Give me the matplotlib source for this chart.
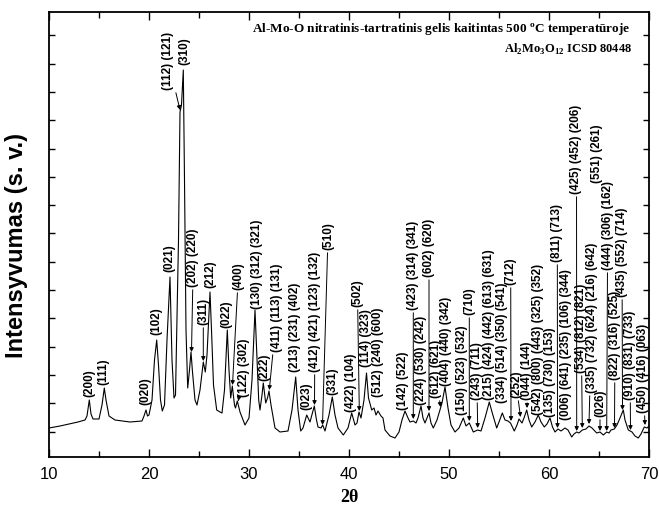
import numpy as np
import matplotlib
matplotlib.use("Agg")
import matplotlib.pyplot as plt

# XRD pattern of Al2Mo3O12 (traced vertices: 2theta, intensity a.u.)
two_theta = [10.0, 11.1, 12.9, 13.6, 13.8, 14.03, 14.2, 14.4, 15.0, 15.3, 15.53, 15.7, 16.0, 16.6,
             18.1, 19.3, 19.5, 19.7, 19.85, 20.0, 20.3, 20.55, 20.77, 20.95, 21.15, 21.33, 21.55,
             21.8, 22.1, 22.3, 22.5, 22.65, 22.95, 23.1, 23.25, 23.43, 23.55, 23.7, 23.87, 24.05,
             24.2, 24.35, 24.6, 24.8, 25.1, 25.43, 25.63, 25.8, 25.97, 26.1, 26.25, 26.45, 26.77,
             27.1, 27.3, 27.55, 27.83, 28.0, 28.17, 28.33, 28.55, 28.65, 28.83, 29.1, 29.6, 30.0,
             30.3, 30.6, 30.8, 30.97, 31.1, 31.3, 31.43, 31.67, 31.85, 32.0, 32.2, 32.6, 33.1,
             33.9, 34.3, 34.67, 34.9, 35.17, 35.4, 35.77, 36.1, 36.53, 36.75, 36.9, 37.2, 37.37,
             37.6, 38.0, 38.33, 38.6, 38.9, 39.43, 39.9, 40.27, 40.6, 40.8, 41.0, 41.2, 41.5,
             41.75, 41.95, 42.27, 42.5, 42.7, 42.9, 43.2, 43.4, 43.6, 44.1, 44.6, 45.0, 45.3,
             45.6, 45.9, 46.1, 46.43, 46.7, 46.9, 47.2, 47.4, 47.6, 47.8, 48.0, 48.2, 48.43,
             48.8, 49.1, 49.3, 49.6, 49.9, 50.2, 50.6, 51.0, 51.43, 51.7, 52.03, 52.43, 52.87,
             53.2, 53.6, 54.03, 54.3, 54.77, 55.0, 55.33, 55.6, 55.9, 56.15, 56.53, 56.8, 57.0,
             57.3, 57.5, 57.77, 58.0, 58.27, 58.6, 58.93, 59.2, 59.53, 59.8, 60.1, 60.35, 60.6,
             60.9, 61.2, 61.6, 61.9, 62.27, 62.5, 62.77, 63.0, 63.33, 63.7, 64.0, 64.3, 64.77,
             65.1, 65.43, 65.77, 66.0, 66.2, 66.53, 66.8, 67.1, 67.43, 67.6, 67.93, 68.3, 68.6,
             68.93, 69.2, 69.53, 69.8, 70.0]
intensity = [29, 31, 35, 37, 41, 57, 43, 38, 38, 52, 69, 57, 41, 37,
             35, 36, 41, 47, 41, 42, 57, 97, 117, 92, 57, 46, 52,
             117, 180, 97, 59, 62, 217, 345, 352, 387, 277, 127, 69, 87,
             105, 85, 57, 52, 67, 95, 85, 102, 137, 165, 127, 72, 47,
             45, 44, 67, 127, 87, 59, 71, 52, 49, 56, 45, 32, 39,
             77, 147, 97, 57, 47, 62, 74, 54, 59, 66, 52, 29, 25,
             26, 47, 80, 47, 26, 29, 42, 35, 51, 37, 30, 29, 32,
             26, 42, 60, 42, 29, 22, 29, 44, 32, 34, 45, 39, 57,
             84, 59, 47, 49, 42, 46, 41, 39, 27, 21, 19, 25, 37,
             46, 39, 35, 36, 34, 39, 51, 39, 34, 39, 44, 34, 29,
             37, 47, 54, 70, 49, 32, 25, 29, 39, 31, 34, 25, 27,
             26, 39, 55, 45, 29, 35, 44, 37, 36, 34, 26, 32, 38,
             34, 39, 47, 37, 30, 35, 42, 35, 30, 33, 39, 30, 25,
             28, 26, 29, 27, 20, 23, 25, 24, 27, 28, 31, 29, 24,
             25, 22, 25, 24, 27, 28, 32, 39, 47, 37, 27, 25, 21,
             19, 23, 30, 29, 31]

# Miller index labels: text, label x, label bottom, arrow tip (or None)
hkl_labels = [
    ("(200)", 14.03, 60, None),
    ("(111)", 15.45, 72, None),
    ("(020)", 19.67, 52, None),
    ("(102)", 20.70, 122, None),
    ("(021)", 22.00, 185, None),
    ("(112) (121)", 21.93, 367, (23.10, 347)),
    ("(310)", 23.50, 392, None),
    ("(202) (220)", 24.43, 170, (24.25, 105)),
    ("(311)", 25.43, 132, (25.43, 96)),
    ("(212)", 26.17, 169, None),
    ("(022)", 27.77, 129, None),
    ("(400)", 28.93, 167, (28.35, 72)),
    ("(122) (302)", 29.53, 60, (28.93, 56)),
    ("(130) (312) (321)", 30.77, 148, None),
    ("(222)", 31.50, 76, None),
    ("(411) (113) (131)", 32.83, 105, (32.03, 67)),
    ("(213) (231) (402)", 34.60, 85, None),
    ("(023)", 35.70, 47, None),
    ("(412) (421) (123) (132)", 36.60, 85, (36.55, 52)),
    ("(510)", 37.90, 207, (37.35, 32)),
    ("(331)", 38.37, 62, None),
    ("(422) (104)", 40.17, 45, None),
    ("(502)", 40.85, 150, (41.03, 46)),
    ("(114) (323)", 41.70, 90, None),
    ("(512) (240) (600)", 42.93, 60, None),
    ("(142) (522)", 45.43, 47, None),
    ("(423) (314) (341)", 46.43, 147, (46.43, 38)),
    ("(224) (530) (242)", 47.20, 52, None),
    ("(602) (620)", 48.00, 180, (48.00, 46)),
    ("(612) (621)", 48.65, 59, (49.15, 50)),
    ("(404) (440) (342)", 49.75, 71, None),
    ("(150) (523) (532)", 51.27, 42, None),
    ("(710)", 52.03, 142, (52.03, 36)),
    ("(243) (711)", 52.77, 57, (52.87, 29)),
    ("(215) (424) (442) (613) (631)", 54.03, 57, None),
    ("(334) (514) (350) (541)", 55.27, 54, None),
    ("(712)", 56.17, 172, (56.20, 36)),
    ("(252)", 56.72, 59, (57.15, 40)),
    ("(044) (144)", 57.84, 57, (57.80, 49)),
    ("(542) (800) (443) (325) (352)", 58.93, 42, None),
    ("(135) (730) (153)", 60.10, 40, None),
    ("(811) (713)", 60.83, 195, (60.85, 29)),
    ("(006) (641) (235) (106) (344)", 61.70, 37, None),
    ("(425) (452) (206)", 62.75, 263, (62.77, 26)),
    ("(534) (812) (821)", 63.22, 84, (63.33, 29)),
    ("(335) (732) (624) (216) (642)", 64.27, 64, (64.00, 33)),
    ("(551) (261)", 64.77, 274, None),
    ("(026)", 65.10, 40, (65.10, 26)),
    ("(444) (306) (162)", 65.87, 187, (65.77, 26)),
    ("(822) (316) (525)", 66.60, 77, (66.55, 29)),
    ("(435) (552) (714)", 67.30, 160, (67.35, 47)),
    ("(910) (831) (733)", 68.10, 57, (68.15, 27)),
    ("(450) (416) (063)", 69.37, 44, (69.60, 32)),
]

fig = plt.figure(figsize=(6.59, 5.16), dpi=100)
ax = fig.add_axes([49 / 659, 1 - 457 / 516, 600 / 659, 445 / 516])

ax.plot(two_theta, intensity, color="black", lw=0.8)

lab_font = dict(family="Liberation Sans", weight="bold", size=8.5)
for text, lx, ly, tip in hkl_labels:
    if tip is None:
        ax.text(lx, ly, text, rotation=90, ha="center", va="bottom", **lab_font)
    else:
        ax.annotate(text, xy=tip, xytext=(lx, ly), rotation=90, ha="center", va="bottom",
                    arrowprops=dict(arrowstyle="-|>", color="black", lw=0.7,
                                    mutation_scale=6, shrinkA=0, shrinkB=0),
                    **lab_font)

ax.set_xlim(10, 70)
ax.set_ylim(0, 445)
ax.set_xticks(np.arange(10, 71, 10))
ax.set_xticks(np.arange(15, 70, 10), minor=True)
ax.set_yticks(np.arange(25.4, 445, 28.3))
ax.set_yticklabels([])
ax.tick_params(axis="both", which="both", direction="in", top=True, right=True, width=1.0)
ax.tick_params(axis="x", which="major", length=6, labelsize=12, pad=7)
ax.tick_params(axis="x", which="minor", length=4)
ax.tick_params(axis="y", length=4)
for lbl in ax.get_xticklabels():
    lbl.set_family("Liberation Sans")
for sp in ax.spines.values():
    sp.set_linewidth(1.3)

fig.text(349 / 659, 1 - 497 / 516, "2θ", family="Liberation Serif", weight="bold", size=13,
         ha="center", va="center")
fig.text(17 / 659, 1 - 246 / 516, "Intensyvumas (s. v.)", family="Liberation Sans",
         weight="bold", size=17, rotation=90, ha="center", va="center")

serif_bold = dict(family="Liberation Serif", weight="bold", ha="right", va="center")
fig.text(631 / 659, 1 - 30 / 516,
         "Al-Mo-O nitratinis-tartratinis gelis kaitintas 500 $^\\mathregular{o}$C temperatūroje",
         size=9.5, **serif_bold)
fig.text(632 / 659, 1 - 49 / 516,
         "Al$_\\mathregular{2}$Mo$_\\mathregular{3}$O$_\\mathregular{12}$ ICSD 80448",
         size=9, **serif_bold)

fig.savefig("out.png", dpi=100)
